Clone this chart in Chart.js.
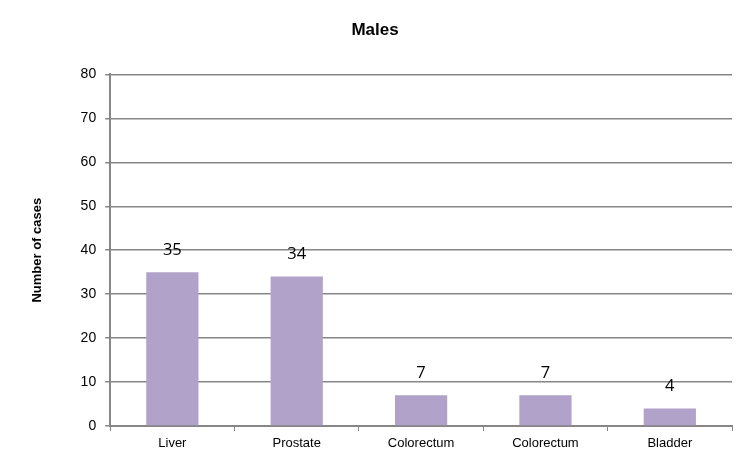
<!DOCTYPE html>
<html>
<head>
<meta charset="utf-8">
<script src="https://cdn.jsdelivr.net/npm/chart.js@4"></script>
<style>
  body { margin: 0; background: #fff; }
  #wrap { width: 747px; height: 452px; }
</style>
</head>
<body>
<div id="wrap"><canvas id="chart"></canvas></div>
<script>
// chart data
const sites = ['Liver', 'Prostate', 'Colorectum', 'Colorectum', 'Bladder'];
const cases = [35, 34, 7, 7, 4];
const yTicks = [0, 10, 20, 30, 40, 50, 60, 70, 80];

// draws the value above each bar
const valueLabels = {
    id: 'valueLabels',
    afterDatasetsDraw(chart) {
        const ctx = chart.ctx;
        const meta = chart.getDatasetMeta(0);
        ctx.save();
        ctx.font = '16.5px "Open Sans", sans-serif';
        ctx.fillStyle = '#000';
        ctx.textAlign = 'center';
        ctx.textBaseline = 'middle';
        meta.data.forEach((bar, i) => {
            ctx.fillText(String(cases[i]), bar.x, bar.y - 22);
        });
        ctx.restore();
    }
};

new Chart(document.getElementById('chart'), {
    type: 'bar',
    data: {
        labels: sites,
        datasets: [{
            data: cases,
            backgroundColor: '#B1A2C9',
            barPercentage: 0.42,
            categoryPercentage: 1
        }]
    },
    options: {
        responsive: true,
        maintainAspectRatio: false,
        animation: false,
        layout: { padding: { left: 18, right: 15, top: 8, bottom: 0 } },
        plugins: {
            legend: { display: false },
            tooltip: { enabled: false },
            title: {
                display: true,
                text: 'Males',
                color: '#000',
                font: { family: '"Liberation Sans", Arial, sans-serif', size: 17, weight: 'bold' },
                padding: { top: 12, bottom: 34 }
            }
        },
        scales: {
            x: {
                afterFit(axis) { axis.height -= 4; },
                grid: { drawOnChartArea: false, offset: true, tickLength: 5, color: '#868686' },
                border: { color: '#868686', width: 2 },
                ticks: { color: '#000', font: { family: '"Liberation Sans", Arial, sans-serif', size: 13, lineHeight: 1 }, padding: 6 }
            },
            y: {
                min: 0,
                max: 80,
                afterBuildTicks(axis) { axis.ticks = yTicks.map(v => ({ value: v })); },
                grid: { color: '#868686', lineWidth: 1.5, tickLength: 5 },
                border: { color: '#868686', width: 2 },
                ticks: { color: '#000', font: { family: '"Liberation Sans", Arial, sans-serif', size: 14 }, padding: 9 },
                title: {
                    display: true,
                    text: 'Number of cases',
                    color: '#000',
                    font: { family: '"Liberation Sans", Arial, sans-serif', size: 13, weight: 'bold' },
                    padding: { top: 12, bottom: 26 }
                }
            }
        }
    },
    plugins: [valueLabels]
});
</script>
</body>
</html>
